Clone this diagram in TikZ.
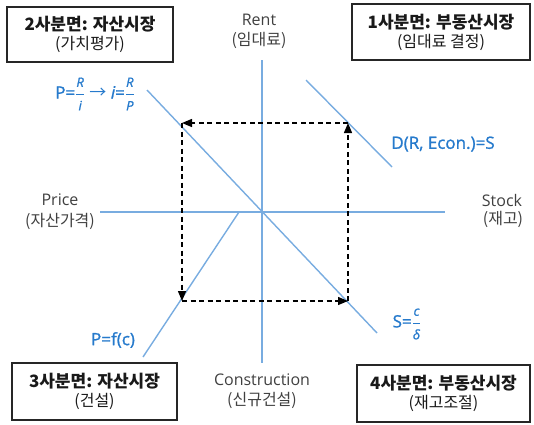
\documentclass[tikz,border=0pt]{standalone}
\usepackage{fontspec}
\setmainfont{Noto Sans CJK KR}
\newfontfamily\lat{Open Sans}
\newfontfamily\latb[FakeBold=1.2]{Open Sans}
\usetikzlibrary{arrows.meta}
\definecolor{lineblue}{RGB}{120,172,224}
\definecolor{txtblue}{RGB}{38,122,204}
\newcommand{\blfrac}[2]{$\displaystyle\frac{\hbox{\fontsize{13}{13}\selectfont\latb\itshape #1}}{\hbox{\fontsize{13}{13}\selectfont\latb\itshape #2}}$}
\begin{document}
\begin{tikzpicture}[x=1pt,y=-1pt,
  bluel/.style={draw=lineblue, line width=1.4pt},
  flowdash/.style={draw=black, line width=1.3pt, dash pattern=on 5pt off 3.5pt, -{Triangle[length=10pt,width=8pt]}},
  qbox/.style={draw=black!85, line width=1.3pt, align=center, inner sep=0pt, text=black!90, font=\fontsize{16}{19}\selectfont},
  axl/.style={align=center, inner sep=0pt, text=black!75},
  latl/.style={font=\lat\fontsize{16}{19}\selectfont},
  korl/.style={font=\fontsize{16}{19}\selectfont},
  eq/.style={text=txtblue, inner sep=0pt, font=\latb\fontsize{17}{20}\selectfont}]
\useasboundingbox (0,0) rectangle (534,424);

% axes
\coordinate (vt) at (262,60);
\coordinate (vb) at (262,363);
\coordinate (hl) at (100,212);
\coordinate (hr) at (445,212);
\draw[bluel] (vt) -- (vb);
\draw[bluel] (hl) -- (hr);

% curves
\coordinate (d1a) at (147,90);
\coordinate (d1b) at (377,333);
\coordinate (d2a) at (306,80);
\coordinate (d2b) at (392,167);
\coordinate (d3a) at (239,212);
\coordinate (d3b) at (143,357);
\draw[bluel] (d1a) -- (d1b);
\draw[bluel] (d2a) -- (d2b);
\draw[bluel] (d3a) -- (d3b);

% dashed cycle
\coordinate (TL) at (182,123);
\coordinate (TR) at (348,123);
\coordinate (BL) at (182,301);
\coordinate (BR) at (348,301);
\draw[flowdash] (BR) -- (TR);
\draw[flowdash] (TR) -- (TL);
\draw[flowdash] (TL) -- (BL);
\draw[flowdash] (BL) -- (BR);

% quadrant boxes
\node[qbox, minimum width=166pt, minimum height=55pt] (q2) at (90,34.5)
  {{\bfseries\fontsize{17}{20}\selectfont 2사분면: 자산시장}\\(가치평가)};
\node[qbox, minimum width=178pt, minimum height=56pt] (q1) at (441,32)
  {{\bfseries\fontsize{17}{20}\selectfont 1사분면: 부동산시장}\\(임대료 결정)};
\node[qbox, minimum width=165pt, minimum height=57pt] (q3) at (94.5,391.5)
  {{\bfseries\fontsize{17}{20}\selectfont 3사분면: 자산시장}\\(건설)};
\node[qbox, minimum width=173pt, minimum height=57pt] (q4) at (443.5,393.5)
  {{\bfseries\fontsize{17}{20}\selectfont 4사분면: 부동산시장}\\(재고조절)};

% axis labels
\node[axl, latl] (rent) at (259,20) {Rent};
\node[axl, korl] (rentk) at (259,40) {(임대료)};
\node[axl, latl] (cons) at (262,380) {Construction};
\node[axl, korl] (consk) at (262,400) {(신규건설)};
\node[axl, latl] (price) at (60,200) {Price};
\node[axl, korl] (pricek) at (60,221) {(자산가격)};
\node[axl, latl] (stock) at (502,200) {Stock};
\node[axl, korl] (stockk) at (503,219) {(재고)};

% equations
\node[eq] (eqp) at (95,94) {P=\blfrac{R}{i} {\rmfamily →} {\itshape i}=\blfrac{R}{P}};
\node[eq] (eqd) at (443,144) {D(R, Econ.)=S};
\node[eq] (eqs) at (407,324) {S=\blfrac{c}{δ}};
\node[eq] (eqf) at (113,340) {P=f(c)};
\end{tikzpicture}
\end{document}
